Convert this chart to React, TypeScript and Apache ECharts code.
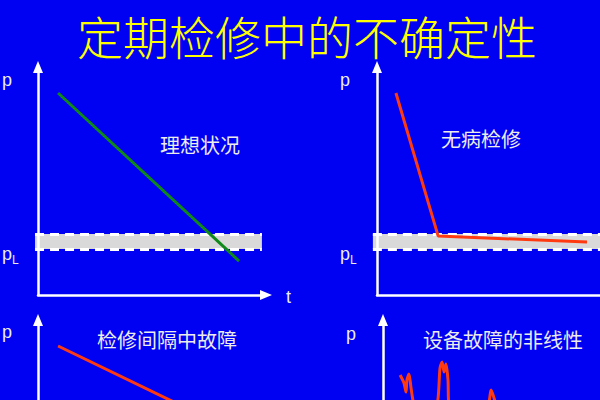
import React, { useEffect, useRef } from "react";
import * as echarts from "echarts";

// ---- texts ----
const TITLE = "定期检修中的不确定性";
const PANEL_LABELS = ["理想状况", "无病检修", "检修间隔中故障", "设备故障的非线性"];
const AXIS_P = "p";
const AXIS_T = "t";
const SUB_L = "L";

// ---- data (x: time, y: probability, on a 0..100 scale) ----
const idealX = [8.8, 88.2];
const idealY = [88.6, 14.9];

const noFaultX = [8.3, 26.8, 92.1];
const noFaultY = [88.6, 25.9, 23.2];

const intervalFaultX = [8.8, 88.2];
const intervalFaultY = [88.6, 50.2];

const nonlinearX = [7.5, 9.2, 10.1, 10.5, 11.4, 12.3, 13.6, 18.4, 23.7, 25.0, 25.9, 26.8, 27.6, 28.5, 28.9, 38.2, 46.1, 47.4, 48.7, 50.4, 55.0];
const nonlinearY = [75.9, 72.4, 68.4, 73.7, 76.3, 70.2, 62.7, 51.8, 62.7, 78.9, 81.6, 77.2, 80.7, 73.7, 62.7, 53.9, 62.7, 69.3, 65.8, 60.5, 58.0];

// p_L band: [xStart, xEnd], [yLow, yHigh]
const band1X = [-1.3, 98.2];
const band1Y = [20.2, 26.8];
const band2X = [-1.8, 106.6];
const band2Y = [20.2, 26.8];

// ---- layout ----
const UNIT = 2.28;
const BAND_XMIN = -3;
const panels = [
  { ox: 38, oy: 295, xMax: 100, yMax: 100 },
  { ox: 377, oy: 295, xMax: 110, yMax: 100 },
  { ox: 38, oy: 548, xMax: 100, yMax: 100 },
  { ox: 383, oy: 548, xMax: 100, yMax: 100 },
];

const BG = "#0000f2";
const RED = "#ff3a10";
const GREEN = "#0f8a1a";
const LABEL_COLOR = "#ececec";
const CJK = '"Noto Sans CJK SC", "Noto Sans", sans-serif';
const LATIN = '"Liberation Sans", Arial, sans-serif';

const zip = (xs: number[], ys: number[]) => xs.map((x, i) => [x, ys[i]]);

function bandSeries(idx: number, bx: number[], by: number[]) {
  return {
    type: "line",
    xAxisIndex: idx,
    yAxisIndex: idx,
    data: [[bx[0], by[0]]],
    symbol: "none",
    lineStyle: { opacity: 0 },
    z: 1,
    silent: true,
    markArea: {
      silent: true,
      itemStyle: { color: "#d9d9d9" },
      data: [[{ coord: [bx[0], by[0]] }, { coord: [bx[1], by[1]] }]],
    },
    markLine: {
      silent: true,
      symbol: ["none", "none"],
      label: { show: false },
      lineStyle: { color: "#ffffff", type: [9, 6], width: 3, opacity: 1 },
      emphasis: { disabled: true },
      data: [
        [{ coord: [bx[0], by[0]] }, { coord: [bx[1], by[0]] }],
        [{ coord: [bx[0], by[1]] }, { coord: [bx[1], by[1]] }],
      ],
    },
  };
}

function lineSeries(idx: number, xs: number[], ys: number[], color: string, smooth = false) {
  return {
    type: "line",
    xAxisIndex: idx,
    yAxisIndex: idx,
    data: zip(xs, ys),
    symbol: "none",
    smooth: smooth ? 0.25 : false,
    z: 5,
    clip: false,
    lineStyle: { color, width: 3 },
  };
}

export default function App() {
  const ref = useRef<HTMLDivElement>(null);

  useEffect(() => {
    if (!ref.current) return;
    document.body.style.margin = "0";
    const chart = echarts.init(ref.current, null, { renderer: "svg" });

    const axisLine = {
      show: true,
      onZero: false,
      lineStyle: { color: "#ffffff", width: 2.5 },
      symbol: ["none", "triangle"],
      symbolSize: [10, 12],
    };
    const hidden = {
      axisLine: { show: false },
      axisTick: { show: false },
      axisLabel: { show: false },
      splitLine: { show: false },
    };

    // 4 visible grids + 2 hidden grids for the p_L bands (wider x range)
    const grids: any[] = panels.map((p) => ({
      left: p.ox,
      top: p.oy - p.yMax * UNIT,
      width: p.xMax * UNIT,
      height: p.yMax * UNIT,
      outerBoundsMode: "none",
      containLabel: false,
    }));
    [0, 1].forEach((i) => {
      const p = panels[i];
      grids.push({
        left: p.ox + BAND_XMIN * UNIT,
        top: p.oy - p.yMax * UNIT,
        width: (p.xMax - BAND_XMIN) * UNIT,
        height: p.yMax * UNIT,
        outerBoundsMode: "none",
        containLabel: false,
      });
    });

    const xAxes: any[] = panels.map((p, i) => ({
      type: "value",
      gridIndex: i,
      min: 0,
      max: p.xMax,
      axisLine,
      axisTick: { show: false },
      axisLabel: { show: false },
      splitLine: { show: false },
      z: 3,
    }));
    const yAxes: any[] = panels.map((p, i) => ({
      type: "value",
      gridIndex: i,
      min: 0,
      max: p.yMax,
      axisLine,
      axisTick: { show: false },
      axisLabel: { show: false },
      splitLine: { show: false },
      z: 3,
    }));
    [0, 1].forEach((i) => {
      xAxes.push({ type: "value", gridIndex: 4 + i, min: BAND_XMIN, max: panels[i].xMax, ...hidden });
      yAxes.push({ type: "value", gridIndex: 4 + i, min: 0, max: panels[i].yMax, ...hidden });
    });

    const text = (x: number, y: number, t: string, size: number, font: string, fill: string, align = "left") => ({
      type: "text",
      x,
      y,
      z: 10,
      style: {
        text: t,
        fill,
        font: `${size}px ${font}`,
        textAlign: align,
        textVerticalAlign: "middle",
      },
    });

    chart.setOption({
      animation: false,
      backgroundColor: BG,
      grid: grids,
      xAxis: xAxes,
      yAxis: yAxes,
      series: [
        bandSeries(4, band1X, band1Y),
        bandSeries(5, band2X, band2Y),
        lineSeries(0, idealX, idealY, GREEN),
        lineSeries(1, noFaultX, noFaultY, RED),
        lineSeries(2, intervalFaultX, intervalFaultY, RED),
        lineSeries(3, nonlinearX, nonlinearY, RED, true),
      ],
      graphic: [
        {
          type: "text",
          x: 307,
          y: 35,
          z: 10,
          style: {
            text: TITLE,
            fill: "#ffff00",
            font: `300 46px ${CJK}`,
            textAlign: "center",
            textVerticalAlign: "middle",
            shadowColor: "rgba(0,0,40,0.8)",
            shadowOffsetX: 2,
            shadowOffsetY: 2,
            shadowBlur: 1,
          },
        },
        text(200, 144, PANEL_LABELS[0], 20, CJK, LABEL_COLOR, "center"),
        text(481, 138, PANEL_LABELS[1], 20, CJK, LABEL_COLOR, "center"),
        text(167, 339, PANEL_LABELS[2], 20, CJK, LABEL_COLOR, "center"),
        text(503, 339, PANEL_LABELS[3], 20, CJK, LABEL_COLOR, "center"),
        text(2, 80, AXIS_P, 18, LATIN, LABEL_COLOR),
        text(340, 80, AXIS_P, 18, LATIN, LABEL_COLOR),
        text(2, 332, AXIS_P, 18, LATIN, LABEL_COLOR),
        text(346, 334, AXIS_P, 18, LATIN, LABEL_COLOR),
        text(2, 254, AXIS_P, 18, LATIN, LABEL_COLOR),
        text(12, 260, SUB_L, 12, LATIN, LABEL_COLOR),
        text(340, 254, AXIS_P, 18, LATIN, LABEL_COLOR),
        text(350, 260, SUB_L, 12, LATIN, LABEL_COLOR),
        text(286, 297, AXIS_T, 18, LATIN, LABEL_COLOR),
      ],
    });

    return () => chart.dispose();
  }, []);

  return (
    <div
      ref={ref}
      style={{ position: "fixed", left: 0, top: 0, width: 600, height: 400, background: BG }}
    />
  );
}
